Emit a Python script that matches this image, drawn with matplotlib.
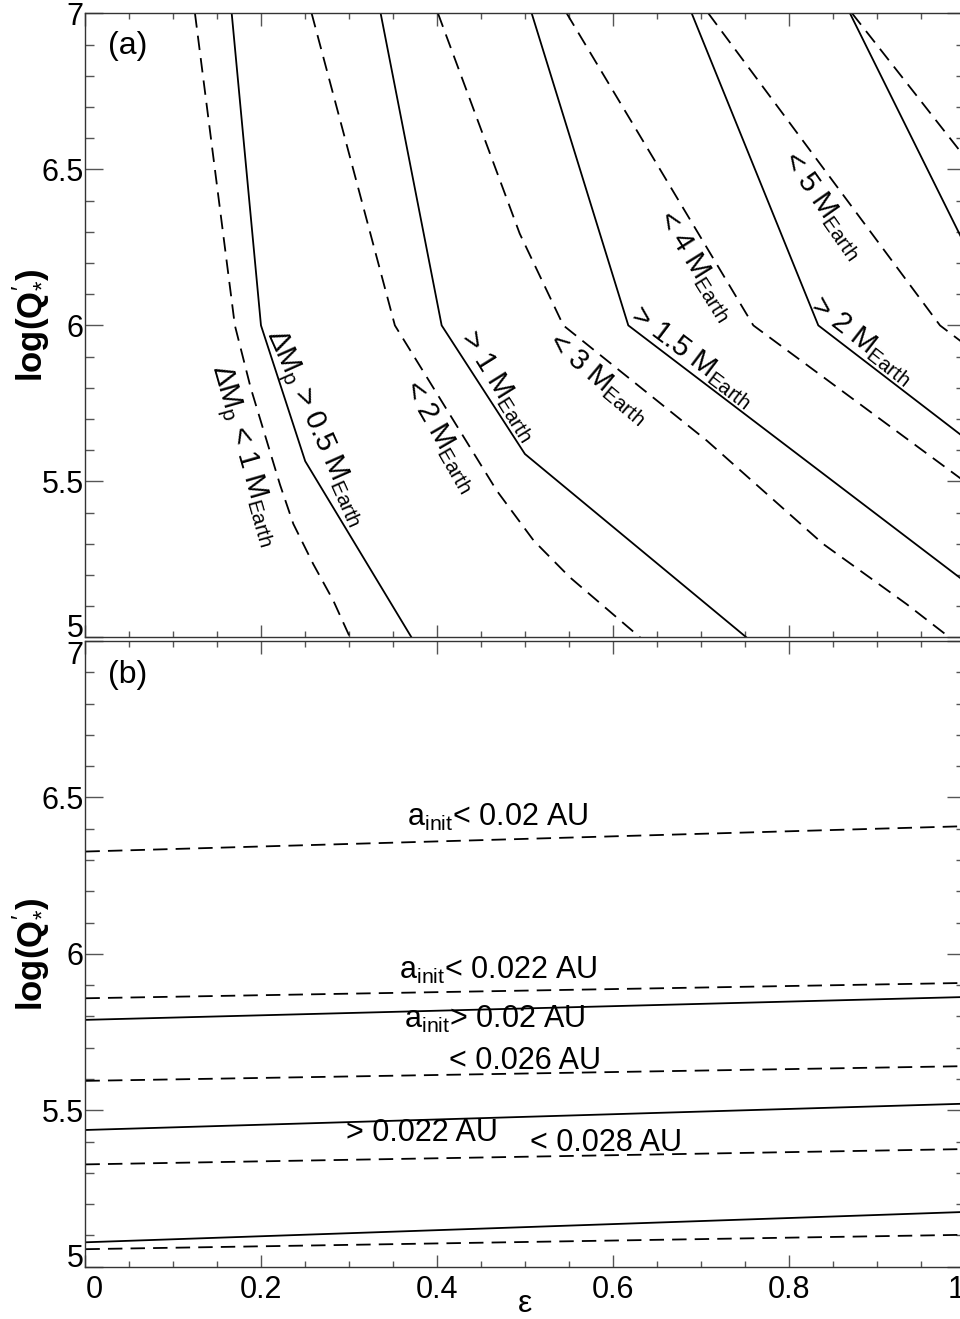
import matplotlib
matplotlib.use("Agg")
import matplotlib.pyplot as plt
from matplotlib.ticker import MultipleLocator

plt.rcParams['font.family'] = ['Liberation Sans', 'DejaVu Sans']
plt.rcParams['mathtext.fontset'] = 'custom'
plt.rcParams['mathtext.rm'] = 'Liberation Sans'
plt.rcParams['mathtext.it'] = 'Liberation Sans:italic'
plt.rcParams['mathtext.bf'] = 'Liberation Sans:bold'

# ---- panel (a): mass change limits in the eps / log(Q'*) plane
# solid = lower limits (>), dashed = upper limits (<)
gt05_eps = [0.1664, 0.1997, 0.250, 0.371]
gt05_q = [7.0, 6.0, 5.565, 5.0]
lt1_eps = [0.1246, 0.170, 0.188, 0.2213, 0.2365, 0.2592, 0.282, 0.301]
lt1_q = [7.0, 6.0, 5.80, 5.49, 5.364, 5.235, 5.118, 5.0]
gt1_eps = [0.3358, 0.4052, 0.4999, 0.752]
gt1_q = [7.0, 6.0, 5.588, 5.0]
lt2_eps = [0.2573, 0.352, 0.468, 0.51, 0.551, 0.631]
lt2_q = [7.0, 6.0, 5.47, 5.31, 5.193, 5.0]
gt15_eps = [0.5076, 0.6175, 1.0]
gt15_q = [7.0, 6.0, 5.18]
lt3_eps = [0.401, 0.494, 0.5436, 0.7067, 0.839, 0.934, 0.983]
lt3_q = [7.0, 6.294, 6.0, 5.631, 5.30, 5.107, 5.0]
gt2_eps = [0.6896, 0.8336, 1.0]
gt2_q = [7.0, 6.0, 5.64]
lt4_eps = [0.5474, 0.7597, 1.0]
lt4_q = [7.0, 6.0, 5.50]
gt25_eps = [0.8696, 1.0]
gt25_q = [7.0, 6.26]
lt5_eps = [0.7085, 0.972, 1.0]
lt5_q = [7.0, 6.0, 5.94]
lt6_eps = [0.872, 1.0]
lt6_q = [7.0, 6.54]

solid_a = [(gt05_eps, gt05_q), (gt1_eps, gt1_q), (gt15_eps, gt15_q),
           (gt2_eps, gt2_q), (gt25_eps, gt25_q)]
dashed_a = [(lt1_eps, lt1_q), (lt2_eps, lt2_q), (lt3_eps, lt3_q),
            (lt4_eps, lt4_q), (lt5_eps, lt5_q), (lt6_eps, lt6_q)]

# label text, eps, logQ, angle
labels_a = [
    (r"ΔM$_{\rm p}$ < 1 M$_{\rm Earth}$", 0.1794, 5.583, -74),
    (r"ΔM$_{\rm p}$ > 0.5 M$_{\rm Earth}$", 0.2611, 5.671, -66),
    (r"< 2 M$_{\rm Earth}$", 0.4041, 5.644, -60),
    (r"> 1 M$_{\rm Earth}$", 0.4705, 5.807, -58),
    (r"< 3 M$_{\rm Earth}$", 0.5834, 5.829, -40),
    (r"> 1.5 M$_{\rm Earth}$", 0.6905, 5.898, -37),
    (r"< 4 M$_{\rm Earth}$", 0.6943, 6.190, -58),
    (r"< 5 M$_{\rm Earth}$", 0.8393, 6.385, -55),
    (r"> 2 M$_{\rm Earth}$", 0.8839, 5.952, -38),
]

# ---- panel (b): initial semi-major axis limits
eps_b = [0.0, 1.0]
a_lt_0020 = [6.327, 6.408]
a_lt_0022 = [5.858, 5.907]
a_gt_0020 = [5.789, 5.862]
a_lt_0026 = [5.594, 5.641]
a_gt_0022 = [5.437, 5.521]
a_lt_0028 = [5.327, 5.376]
a_gt_0026 = [5.078, 5.175]
a_lt_0030 = [5.056, 5.102]

solid_b = [a_gt_0020, a_gt_0022, a_gt_0026]
dashed_b = [a_lt_0020, a_lt_0022, a_lt_0026, a_lt_0028, a_lt_0030]

labels_b = [
    (r"a$_{\rm init}$< 0.02 AU", 0.366, 6.410),
    (r"a$_{\rm init}$< 0.022 AU", 0.357, 5.920),
    (r"a$_{\rm init}$> 0.02 AU", 0.362, 5.762),
    (r"< 0.026 AU", 0.414, 5.631),
    (r"> 0.022 AU", 0.2965, 5.403),
    (r"< 0.028 AU", 0.5054, 5.369),
]

xticks = [0, 0.2, 0.4, 0.6, 0.8, 1.0]
xtick_labels = ["0", "0.2", "0.4", "0.6", "0.8", "1"]
yticks = [5, 5.5, 6, 6.5, 7]
ytick_labels = ["5", "5.5", "6", "6.5", "7"]

fig = plt.figure(figsize=(9.6, 13.19), dpi=100)
ax1 = fig.add_axes([0.08896, 0.51668, 0.91583, 0.47324])
ax2 = fig.add_axes([0.08896, 0.03965, 0.91583, 0.47438])

dash = (8.0, 4.5)

for ax in (ax1, ax2):
    ax.set_xlim(0, 1)
    ax.set_ylim(5, 7)
    ax.xaxis.set_minor_locator(MultipleLocator(0.05))
    ax.yaxis.set_minor_locator(MultipleLocator(0.1))
    ax.set_xticks(xticks, labels=xtick_labels)
    ax.set_yticks(yticks, labels=ytick_labels)
    ax.tick_params(which='both', direction='in', top=True, right=True,
                   color='#555555', width=1.0, labelsize=22)
    ax.tick_params(axis='y', which='major', length=12.7, pad=1.2)
    ax.tick_params(axis='y', which='minor', length=6.3)
    ax.tick_params(axis='x', which='major', length=9.0, pad=6.0)
    ax.tick_params(axis='x', which='minor', length=4.5)
    for s in ax.spines.values():
        s.set_color('#333333')
        s.set_linewidth(1.0)
    ax.set_ylabel(r"log(Q$^{\prime}_{*}$)", fontsize=25, fontweight='bold',
                  va='center')
    ax.yaxis.set_label_coords(-0.064, 0.5)

# panel (a)
for e, q in solid_a:
    ax1.plot(e, q, color='black', lw=1.3, solid_joinstyle='miter')
for e, q in dashed_a:
    ax1.plot(e, q, color='black', lw=1.3, ls=(0, dash))
for txt, e, q, ang in labels_a:
    ax1.text(e, q, txt, fontsize=21, rotation=ang, rotation_mode='anchor',
             ha='center', va='center')
ax1.tick_params(labelbottom=False)
ax1.text(0.026, 6.895, "(a)", fontsize=23, ha='left', va='center')
ylab1 = ax1.get_yticklabels()
ylab1[0].set_va('baseline')

# panel (b)
for q in solid_b:
    ax2.plot(eps_b, q, color='black', lw=1.3)
for q in dashed_b:
    ax2.plot(eps_b, q, color='black', lw=1.3, ls=(0, dash))
for txt, e, q in labels_b:
    ax2.text(e, q, txt, fontsize=22, ha='left', va='baseline')
ax2.text(0.026, 6.891, "(b)", fontsize=23, ha='left', va='center')
ylab2 = ax2.get_yticklabels()
ylab2[0].set_va('baseline')
ylab2[-1].set_va('top')
xlab2 = ax2.get_xticklabels()
xlab2[0].set_ha('left')
xlab2[-1].set_ha('right')
ax2.set_xlabel("ε", fontsize=23, va='baseline')
ax2.xaxis.set_label_coords(0.5, -0.0724)

fig.savefig("out.png", dpi=100)
